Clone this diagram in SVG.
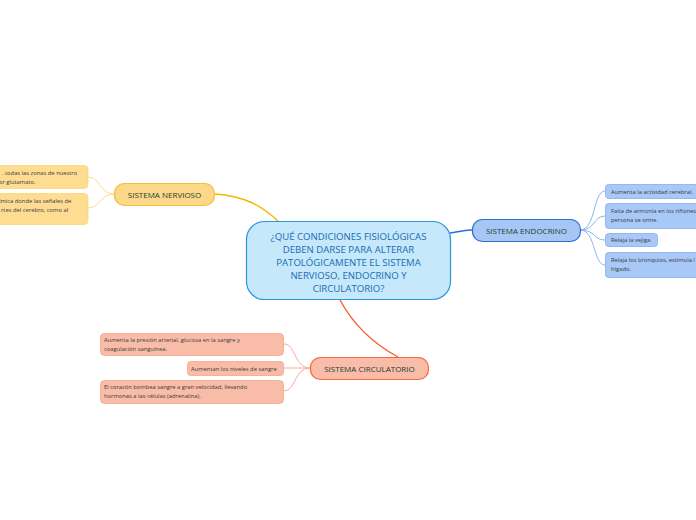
<svg xmlns="http://www.w3.org/2000/svg" width="696" height="520" viewBox="0 0 696 520">
<style>
text{font-family:"Open Sans","Noto Sans","Liberation Sans",sans-serif}
.main{font-size:9.6px;fill:#1b6cb5;text-anchor:middle}
.topic{font-size:8px;fill:#1a3f2c;text-anchor:middle}
.sub{font-size:5.8px;fill:#3a3a3a}
.c{fill:none}
</style>
<rect width="696" height="520" fill="#ffffff"/>
<g id="connectors" class="c">
<path d="M215,194 C245,196 262,206 279,222" stroke="#f5b800" stroke-width="1.4"/>
<path d="M450,233 C458,232 462,230 472,230" stroke="#2a6fd6" stroke-width="1.6"/>
<path d="M340,300 C352,322 372,343 398,357" stroke="#f2602f" stroke-width="1.4"/>
<g stroke="#fddc8f" stroke-width="1">
<path d="M114,194 C100,194 100,177 88,177"/>
<path d="M114,194 C100,194 100,208 88,208"/>
</g>
<g stroke="#8fb4f2" stroke-width="1">
<path d="M580,230 C596,230 593,191 605,191"/>
<path d="M580,230 C596,230 593,216 605,216"/>
<path d="M580,230 C596,230 593,240 605,240"/>
<path d="M580,230 C596,230 593,265 605,265"/>
</g>
<g stroke="#f6ad95" stroke-width="1">
<path d="M310,368 C294,368 296,344 284,344"/>
<path d="M310,368 L284,368"/>
<path d="M310,368 C294,368 296,391 284,391"/>
</g>
</g>
<g id="central">
<rect x="246.5" y="221.5" width="204" height="78" rx="18" fill="#c5e8fb" stroke="#2a96dc" stroke-width="1.2"/>
<text class="main" x="348.5" y="239.5">¿QUÉ CONDICIONES FISIOLÓGICAS</text>
<text class="main" x="348.5" y="252.5">DEBEN DARSE PARA ALTERAR</text>
<text class="main" x="348.5" y="265.5">PATOLÓGICAMENTE EL SISTEMA</text>
<text class="main" x="348.5" y="278.5">NERVIOSO, ENDOCRINO Y</text>
<text class="main" x="348.5" y="291.5">CIRCULATORIO?</text>
</g>
<g id="nervioso">
<rect x="114.5" y="183.5" width="100" height="22" rx="10" fill="#fdd78a" stroke="#f7bd3c" stroke-width="1.2"/>
<text class="topic" x="164.5" y="197.5">SISTEMA NERVIOSO</text>
</g>
<g id="nervioso-1">
<rect x="-10" y="165.5" width="98" height="23" rx="4" fill="#fedc91" stroke="#fcd47c" stroke-width="0.8"/>
<text class="sub" x="2" y="174.5">. todas las zonas de nuestro</text>
<text class="sub" x="-1" y="183.5">or glutamato.</text>
</g>
<g id="nervioso-2">
<rect x="-10" y="193.5" width="98" height="31" rx="4" fill="#fedc91" stroke="#fcd47c" stroke-width="0.8"/>
<text class="sub" x="-1" y="202.5">ímica donde las señales de</text>
<text class="sub" x="1" y="211.5">rtes del cerebro, como al</text>
</g>
<g id="endocrino">
<rect x="472.5" y="219.5" width="108" height="22" rx="10" fill="#a6c7f6" stroke="#2f6fd4" stroke-width="1.2"/>
<text class="topic" x="526.5" y="233.5">SISTEMA ENDOCRINO</text>
</g>
<g id="endocrino-1">
<rect x="605.5" y="184.5" width="110" height="14" rx="3" fill="#a8c8f7" stroke="#86adf0" stroke-width="0.8"/>
<text class="sub" x="611" y="193.5">Aumenta la actividad cerebral.</text>
</g>
<g id="endocrino-2">
<rect x="605.5" y="203.5" width="110" height="25" rx="3" fill="#a8c8f7" stroke="#86adf0" stroke-width="0.8"/>
<text class="sub" x="611" y="213">Falta de armonía en los riñones</text>
<text class="sub" x="611" y="222">persona se orine.</text>
</g>
<g id="endocrino-3">
<rect x="605.5" y="233.5" width="52" height="13" rx="3" fill="#a8c8f7" stroke="#86adf0" stroke-width="0.8"/>
<text class="sub" x="611" y="242">Relaja la vejiga.</text>
</g>
<g id="endocrino-4">
<rect x="605.5" y="252.5" width="110" height="25" rx="3" fill="#a8c8f7" stroke="#86adf0" stroke-width="0.8"/>
<text class="sub" x="611" y="262">Relaja los bronquios, estimula l</text>
<text class="sub" x="611" y="271">hígado.</text>
</g>
<g id="circulatorio">
<rect x="310.5" y="357.5" width="118" height="22" rx="10" fill="#f9bca8" stroke="#f46a3e" stroke-width="1.2"/>
<text class="topic" x="369.5" y="371.5">SISTEMA CIRCULATORIO</text>
</g>
<g id="circulatorio-1">
<rect x="100.5" y="333.5" width="183" height="22" rx="4" fill="#f9bca8" stroke="#f4a68b" stroke-width="0.8"/>
<text class="sub" x="104" y="342">Aumenta la presión arterial, glucosa en la sangre  y</text>
<text class="sub" x="104" y="351">coagulación sanguínea.</text>
</g>
<g id="circulatorio-2">
<rect x="187.5" y="361.5" width="96" height="14" rx="3" fill="#f9bca8" stroke="#f4a68b" stroke-width="0.8"/>
<text class="sub" x="191" y="370.5">Aumentan los niveles de sangre</text>
</g>
<g id="circulatorio-3">
<rect x="100.5" y="380.5" width="183" height="23" rx="4" fill="#f9bca8" stroke="#f4a68b" stroke-width="0.8"/>
<text class="sub" x="104" y="389">El corazón bombea sangre a gran velocidad,  llevando</text>
<text class="sub" x="104" y="398">hormonas a las células (adrenalina).</text>
</g>
</svg>
